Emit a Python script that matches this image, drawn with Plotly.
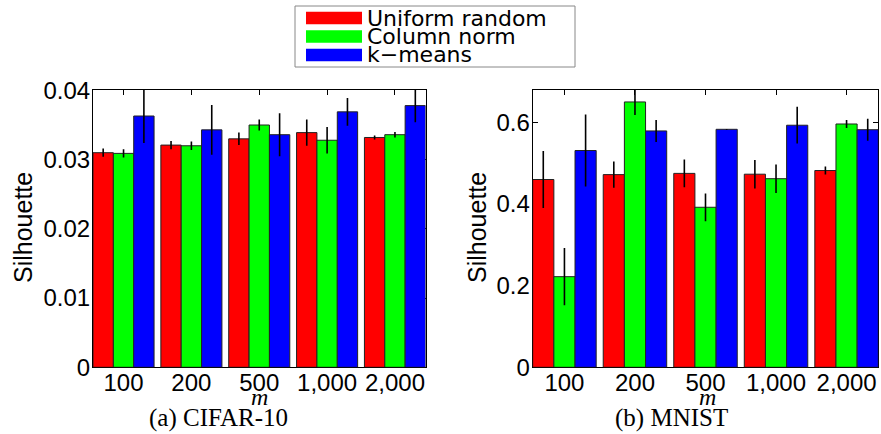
import plotly.graph_objects as go

# Sampling sizes m and the three landmark-selection methods
categories = ["100", "200", "500", "1,000", "2,000"]
methods = ["Uniform random", "Column norm", "k\u2212means"]
colors = ["#ff0000", "#00ff00", "#0000ff"]

# CIFAR-10 silhouette scores (mean and std)
cifar_uniform = [0.0310, 0.0321, 0.0330, 0.0339, 0.0332]
cifar_colnorm = [0.0309, 0.0320, 0.0350, 0.0328, 0.0336]
cifar_kmeans = [0.0363, 0.0343, 0.0336, 0.0369, 0.0378]
cifar_uniform_err = [0.0006, 0.0006, 0.0009, 0.0019, 0.0003]
cifar_colnorm_err = [0.0006, 0.0006, 0.0008, 0.0019, 0.0004]
cifar_kmeans_err = [0.0039, 0.0036, 0.0031, 0.0020, 0.0024]

# MNIST silhouette scores (mean and std)
mnist_uniform = [0.460, 0.472, 0.475, 0.473, 0.482]
mnist_colnorm = [0.222, 0.650, 0.392, 0.462, 0.596]
mnist_kmeans = [0.531, 0.579, 0.583, 0.593, 0.582]
mnist_uniform_err = [0.070, 0.032, 0.034, 0.035, 0.010]
mnist_colnorm_err = [0.070, 0.032, 0.034, 0.035, 0.010]
mnist_kmeans_err = [0.088, 0.027, 0.001, 0.045, 0.027]

cifar_ticks = [0, 0.01, 0.02, 0.03, 0.04]
cifar_ticktext = ["0", "0.01", "0.02", "0.03", "0.04"]
mnist_ticks = [0, 0.2, 0.4, 0.6]
mnist_ticktext = ["0", "0.2", "0.4", "0.6"]

W, H = 881, 434


def px(x):
    return x / W


def py(y):
    return 1 - y / H


fig = go.Figure()

panels = [
    ("x", "y", [cifar_uniform, cifar_colnorm, cifar_kmeans],
     [cifar_uniform_err, cifar_colnorm_err, cifar_kmeans_err]),
    ("x2", "y2", [mnist_uniform, mnist_colnorm, mnist_kmeans],
     [mnist_uniform_err, mnist_colnorm_err, mnist_kmeans_err]),
]

for xa, ya, means, errs in panels:
    for name, color, vals, err in zip(methods, colors, means, errs):
        fig.add_trace(go.Bar(
            x=categories, y=vals, name=name, xaxis=xa, yaxis=ya,
            marker=dict(color=color, line=dict(color="#222222", width=1)),
            error_y=dict(type="data", array=err, visible=True,
                         color="black", thickness=1.6, width=0),
            showlegend=False,
        ))

sans = "Liberation Sans, Arial, sans-serif"
serif = "Liberation Serif, Times New Roman, serif"
tick_font = dict(family=sans, size=24, color="black")
common_x = dict(type="category", range=[-0.45, 4.45], showline=True, linecolor="black",
                linewidth=1, mirror="ticks", ticks="inside", ticklen=5, tickcolor="black",
                tickfont=tick_font, layer="below traces", showgrid=False, zeroline=False,
                ticklabelstandoff=-6, automargin=False, fixedrange=True)
common_y = dict(showline=True, linecolor="black", linewidth=1, mirror="ticks",
                ticks="inside", ticklen=5, tickcolor="black", tickfont=tick_font,
                layer="below traces", showgrid=False, zeroline=False,
                ticklabelstandoff=-3, automargin=False, fixedrange=True)

ydom = [py(367.3), py(89.7)]
fig.update_layout(
    template="none",
    width=W, height=H, autosize=False,
    margin=dict(l=0, r=0, t=0, b=0, pad=0, autoexpand=False),
    paper_bgcolor="white", plot_bgcolor="white",
    barmode="group", bargap=0.1, bargroupgap=0,
    xaxis=dict(domain=[px(93), px(425.5)], anchor="y", **common_x),
    yaxis=dict(domain=ydom, anchor="x", range=[0, 0.0401],
               tickvals=cifar_ticks, ticktext=cifar_ticktext, **common_y),
    xaxis2=dict(domain=[px(532.7), px(878.3)], anchor="y2", **common_x),
    yaxis2=dict(domain=ydom, anchor="x2", range=[0, 0.68],
                tickvals=mnist_ticks, ticktext=mnist_ticktext, **common_y),
    showlegend=False,
)

annotations = []
shapes = []


def label(text, x, y, size, family, xanchor="center", angle=0):
    annotations.append(dict(text=text, x=px(x), y=py(y), xref="paper", yref="paper",
                            xanchor=xanchor, yanchor="middle", textangle=angle,
                            showarrow=False, borderpad=0,
                            font=dict(family=family, size=size, color="black")))


# Axis labels and panel captions
for ylab_x, m_x, cap_x, caption in [(23, 259, 218, "(a) CIFAR-10"),
                                    (477, 707, 671, "(b) MNIST")]:
    label("Silhouette", ylab_x, 228, 25, sans, angle=-90)
    label("<i>m</i>", m_x, 397, 24, serif)
    label(caption, cap_x, 418, 25, serif)

# Legend box drawn in paper coordinates
shapes.append(dict(type="rect", xref="paper", yref="paper", x0=px(295), x1=px(575),
                   y0=py(67), y1=py(6), line=dict(color="#888888", width=1),
                   fillcolor="white"))
row_centers = [18, 36.5, 55]
for name, color, rc in zip(methods, colors, row_centers):
    shapes.append(dict(type="rect", xref="paper", yref="paper", x0=px(306), x1=px(362),
                       y0=py(rc + 6.2), y1=py(rc - 6.2), line=dict(width=0),
                       fillcolor=color))
    label(name, 366, rc, 22, "DejaVu Sans, sans-serif", xanchor="left")

fig.update_layout(annotations=annotations, shapes=shapes)

# Page without body margin or scrollbars so the figure fills the window exactly
page_css = ("document.documentElement.style.margin='0';"
            "document.documentElement.style.overflow='hidden';"
            "document.body.style.margin='0';"
            "document.body.style.padding='0';"
            "document.body.style.overflow='hidden';")
fig.write_html("out.html", post_script=page_css)
